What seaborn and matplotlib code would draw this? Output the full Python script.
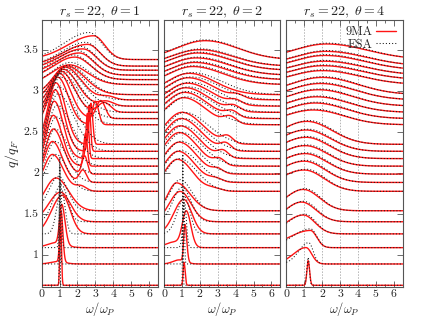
import numpy as np
import pandas as pd
import matplotlib
matplotlib.use("Agg")
import matplotlib.pyplot as plt
from matplotlib.lines import Line2D
from matplotlib.ticker import MultipleLocator
import seaborn as sns

# ---------------- data ----------------
THETA = [1, 2, 4]
RS = 22
Q = [0.627, 0.887, 1.086, 1.254, 1.402, 1.536, 1.773, 1.881, 1.983, 2.080,
     2.172, 2.261, 2.346, 2.585, 2.660, 2.736, 2.812, 2.888, 2.952, 3.075,
     3.135, 3.190, 3.250, 3.300, 3.380]
OMEGA_TICKS = [0, 1, 2, 3, 4, 5, 6]
Q_TICKS = [1.0, 1.5, 2.0, 2.5, 3.0, 3.5]
GRID_OMEGA = [1, 2, 3, 4]
LEGEND_LABELS = ["9MA", "ESA"]

# per-curve peak descriptors (position, height above q, left/right widths,
# optional second peak) -- theta = 1, 9MA
T1_9MA_W = [1.05, 1.08, 1.12, 1.15, 1.05, 0.80, 0.60, 0.60, 0.65, 0.65, 0.70, 0.75, 0.80,
            0.90, 1.00, 1.10, 1.20, 1.30, 1.40, 1.55, 1.85, 2.10, 2.30, 2.57, 2.90]
T1_9MA_H = [0.85, 0.62, 0.48, 0.47, 0.36, 0.40, 0.45, 0.50, 0.55, 0.62, 0.70, 0.75, 0.75,
            0.58, 0.55, 0.50, 0.45, 0.40, 0.35, 0.24, 0.275, 0.27, 0.26, 0.265, 0.29]
T1_9MA_GL = [0.04, 0.07, 0.12, 0.60, 0.66, 0.62, 0.50, 0.45, 0.42, 0.40, 0.40, 0.42, 0.45,
             0.50, 0.55, 0.60, 0.65, 0.70, 0.75, 1.00, 1.20, 1.30, 1.35, 1.40, 1.45]
T1_9MA_GR = [0.05, 0.10, 0.18, 0.45, 0.55, 0.70, 0.60, 0.55, 0.55, 0.50, 0.50, 0.50, 0.52,
             0.58, 0.62, 0.70, 0.80, 0.90, 1.00, 1.00, 0.90, 0.80, 0.75, 0.70, 0.62]
T1_9MA_W2 = [0, 0.90, 0.80, 0, 0, 0, 2.20, 2.30, 2.40, 2.45, 2.55, 2.65, 2.75,
             3.00, 3.30, 3.50, 3.60, 3.70, 0, 0, 0, 0, 0, 0, 0]
T1_9MA_H2 = [0, 0.03, 0.06, 0, 0, 0, 0.06, 0.15, 0.22, 0.40, 0.55, 0.56, 0.50,
             0.28, 0.22, 0.12, 0.06, 0.04, 0, 0, 0, 0, 0, 0, 0]
T1_9MA_G2 = [1, 0.40, 0.50, 1, 1, 1, 0.30, 0.20, 0.15, 0.10, 0.08, 0.08, 0.10,
             0.18, 0.25, 0.35, 0.40, 0.40, 1, 1, 1, 1, 1, 1, 1]
# theta = 1, ESA
T1_ESA_W = [1.00, 1.02, 1.05, 1.10, 1.10, 0.95, 0.80, 0.75, 0.75, 0.80, 0.85, 0.90, 0.95,
            1.05, 1.10, 1.20, 1.30, 1.40, 1.50, 1.60, 1.80, 2.00, 2.20, 2.45, 2.65]
T1_ESA_H = [1.60, 1.20, 0.80, 0.55, 0.45, 0.42, 0.45, 0.50, 0.55, 0.60, 0.65, 0.70, 0.70,
            0.58, 0.55, 0.50, 0.45, 0.40, 0.36, 0.27, 0.30, 0.30, 0.29, 0.29, 0.33]
T1_ESA_GL = [0.015, 0.03, 0.06, 0.25, 0.45, 0.55, 0.55, 0.50, 0.48, 0.48, 0.50, 0.52, 0.55,
             0.60, 0.62, 0.66, 0.70, 0.75, 0.80, 1.00, 1.15, 1.25, 1.30, 1.35, 1.40]
T1_ESA_GR = [0.02, 0.03, 0.06, 0.20, 0.35, 0.50, 0.65, 0.70, 0.75, 0.80, 0.85, 0.90, 0.95,
             1.00, 1.00, 1.00, 1.00, 1.00, 1.00, 1.00, 0.90, 0.85, 0.80, 0.75, 0.70]

# theta = 2, 9MA
T2_9MA_W = [1.12, 1.17, 1.25, 1.10, 0.90, 0.70, 0.75, 0.80, 0.85, 0.85, 0.90, 0.95, 1.00,
            1.10, 1.15, 1.20, 1.30, 1.35, 1.40, 1.60, 1.70, 1.80, 1.90, 2.00, 2.30]
T2_9MA_H = [0.28, 0.45, 0.42, 0.42, 0.37, 0.34, 0.39, 0.38, 0.39, 0.41, 0.40, 0.40, 0.39,
            0.33, 0.32, 0.30, 0.28, 0.27, 0.26, 0.22, 0.21, 0.21, 0.21, 0.20, 0.23]
T2_9MA_GL = [0.05, 0.07, 0.22, 0.55, 0.60, 0.47, 0.73, 0.78, 0.82, 0.85, 0.88, 0.90, 0.95,
             1.00, 1.05, 1.10, 1.15, 1.20, 1.25, 1.30, 1.40, 1.50, 1.55, 1.60, 1.60]
T2_9MA_GR = [0.06, 0.10, 0.25, 0.45, 0.60, 0.75, 0.85, 0.90, 0.95, 1.00, 1.05, 1.10, 1.15,
             1.20, 1.25, 1.30, 1.35, 1.40, 1.45, 1.70, 1.75, 1.80, 1.80, 1.80, 1.80]
T2_9MA_W2 = [0, 0.85, 0.60, 0, 0, 0, 2.80, 2.90, 3.00, 3.10, 3.30, 3.45, 3.55,
             3.70, 3.80, 3.90, 4.00, 4.10, 0, 0, 0, 0, 0, 0, 0]
T2_9MA_H2 = [0, 0.05, 0.07, 0, 0, 0, 0.03, 0.04, 0.05, 0.07, 0.08, 0.08, 0.08,
             0.08, 0.07, 0.06, 0.05, 0.04, 0, 0, 0, 0, 0, 0, 0]
T2_9MA_G2 = [1, 0.35, 0.50, 1, 1, 1, 0.40, 0.35, 0.30, 0.30, 0.30, 0.30, 0.30,
             0.35, 0.35, 0.35, 0.35, 0.35, 1, 1, 1, 1, 1, 1, 1]
# theta = 2, ESA
T2_ESA_W = [1.05, 1.10, 1.15, 1.15, 1.00, 0.90, 0.85, 0.90, 0.95, 1.00, 1.05, 1.10, 1.15,
            1.25, 1.30, 1.35, 1.45, 1.50, 1.55, 1.65, 1.75, 1.85, 1.95, 2.05, 2.30]
T2_ESA_H = [1.60, 0.90, 0.55, 0.45, 0.42, 0.38, 0.40, 0.39, 0.40, 0.41, 0.40, 0.40, 0.39,
            0.34, 0.33, 0.31, 0.29, 0.28, 0.27, 0.23, 0.22, 0.22, 0.22, 0.21, 0.24]
T2_ESA_GL = [0.015, 0.03, 0.10, 0.40, 0.50, 0.55, 0.75, 0.80, 0.85, 0.88, 0.90, 0.95, 1.00,
             1.05, 1.10, 1.15, 1.20, 1.25, 1.30, 1.35, 1.40, 1.50, 1.55, 1.60, 1.60]
T2_ESA_GR = [0.02, 0.04, 0.10, 0.30, 0.50, 0.65, 1.00, 1.05, 1.10, 1.15, 1.20, 1.25, 1.30,
             1.40, 1.45, 1.50, 1.55, 1.60, 1.65, 1.75, 1.80, 1.80, 1.80, 1.80, 1.80]

# theta = 4, 9MA
T4_9MA_W = [1.22, 1.10, 1.35, 0.95, 0.85, 0.95, 1.00, 1.00, 1.05, 1.05, 1.10, 1.10, 1.15,
            1.50, 1.60, 1.70, 1.80, 1.90, 2.00, 2.00, 2.05, 2.10, 2.15, 2.20, 2.25]
T4_9MA_H = [0.30, 0.20, 0.21, 0.23, 0.24, 0.26, 0.26, 0.26, 0.25, 0.25, 0.26, 0.26, 0.28,
            0.18, 0.19, 0.19, 0.20, 0.20, 0.21, 0.17, 0.17, 0.17, 0.18, 0.18, 0.19]
T4_9MA_GL = [0.07, 0.70, 1.20, 0.95, 0.90, 1.00, 1.40, 1.40, 1.45, 1.45, 1.50, 1.50, 1.50,
             1.60, 1.60, 1.65, 1.70, 1.75, 1.80, 1.80, 1.80, 1.80, 1.80, 1.80, 1.83]
T4_9MA_GR = [0.08, 0.32, 0.35, 0.65, 0.80, 0.90, 1.10, 1.15, 1.20, 1.25, 1.30, 1.35, 1.40,
             1.70, 1.75, 1.80, 1.85, 1.90, 1.95, 2.10, 2.15, 2.20, 2.20, 2.25, 2.25]
# theta = 4, ESA
T4_ESA_W = [1.22, 1.25, 1.35, 1.05, 0.95, 1.05, 1.10, 1.10, 1.15, 1.15, 1.20, 1.20, 1.25,
            1.55, 1.65, 1.75, 1.85, 1.95, 2.05, 2.05, 2.10, 2.15, 2.20, 2.25, 2.30]
T4_ESA_H = [0.34, 0.26, 0.23, 0.24, 0.25, 0.27, 0.27, 0.27, 0.26, 0.26, 0.27, 0.27, 0.29,
            0.19, 0.20, 0.20, 0.21, 0.21, 0.22, 0.18, 0.18, 0.18, 0.19, 0.19, 0.20]
T4_ESA_GL = [0.07, 0.55, 1.00, 0.95, 0.95, 1.05, 1.40, 1.40, 1.45, 1.45, 1.50, 1.50, 1.50,
             1.60, 1.60, 1.65, 1.70, 1.75, 1.80, 1.80, 1.80, 1.80, 1.80, 1.80, 1.83]
T4_ESA_GR = [0.07, 0.25, 0.35, 0.60, 0.75, 0.85, 1.05, 1.10, 1.15, 1.20, 1.25, 1.30, 1.35,
             1.65, 1.70, 1.75, 1.80, 1.85, 1.90, 2.05, 2.10, 2.15, 2.15, 2.20, 2.20]
ZEROS = [0] * len(Q)
ONES = [1] * len(Q)

PANELS = [
    dict(nma=(T1_9MA_W, T1_9MA_H, T1_9MA_GL, T1_9MA_GR, T1_9MA_W2, T1_9MA_H2, T1_9MA_G2),
         esa=(T1_ESA_W, T1_ESA_H, T1_ESA_GL, T1_ESA_GR, ZEROS, ZEROS, ONES)),
    dict(nma=(T2_9MA_W, T2_9MA_H, T2_9MA_GL, T2_9MA_GR, T2_9MA_W2, T2_9MA_H2, T2_9MA_G2),
         esa=(T2_ESA_W, T2_ESA_H, T2_ESA_GL, T2_ESA_GR, ZEROS, ZEROS, ONES)),
    dict(nma=(T4_9MA_W, T4_9MA_H, T4_9MA_GL, T4_9MA_GR, ZEROS, ZEROS, ONES),
         esa=(T4_ESA_W, T4_ESA_H, T4_ESA_GL, T4_ESA_GR, ZEROS, ZEROS, ONES)),
]

OMEGA = np.linspace(0, 6.5, 700)


def curves_frame(params):
    rows = []
    for i, q in enumerate(Q):
        w, h, gl, gr, w2, h2, g2 = (p[i] for p in params)
        g = np.where(OMEGA < w, gl, gr)
        s = h * np.exp(-0.5 * ((OMEGA - w) / g) ** 2)
        s = s + h2 * np.exp(-0.5 * ((OMEGA - w2) / g2) ** 2)
        rows.append(pd.DataFrame({"omega": OMEGA, "y": q + s, "curve": i}))
    return pd.concat(rows, ignore_index=True)


# ---------------- styling ----------------
sns.set_style("ticks")
plt.rcParams["font.family"] = ["cmr10", "DejaVu Serif"]
plt.rcParams["mathtext.fontset"] = "cm"
plt.rcParams["axes.formatter.use_mathtext"] = True
plt.rcParams["axes.unicode_minus"] = False

RED = "#ff1414"
DOT = (0, (1, 2.0))

fig = plt.figure(figsize=(4.24, 3.17), dpi=100)
lefts = [0.0983, 0.3868, 0.6752]
width = 0.2745
bottom, height = 0.0946, 0.8433
frame_col = "#555555"

for k, (theta, panel) in enumerate(zip(THETA, PANELS)):
    ax = fig.add_axes([lefts[k], bottom, width, height])
    for g in GRID_OMEGA:
        ax.axvline(g, color="#b4b4b4", lw=0.7, ls=(0, (1.5, 1.5)), zorder=0)
    d9 = curves_frame(panel["nma"])
    de = curves_frame(panel["esa"])
    sns.lineplot(data=d9, x="omega", y="y", units="curve", estimator=None,
                 color=RED, lw=1.0, ax=ax, sort=False, zorder=2)
    sns.lineplot(data=de, x="omega", y="y", units="curve", estimator=None,
                 color="#1a1a1a", lw=0.75, ax=ax, sort=False, zorder=3,
                 linestyle=DOT)
    ax.set_xlim(0, 6.5)
    ax.set_ylim(0.606, 3.866)
    ax.set_xticks(OMEGA_TICKS)
    ax.xaxis.set_minor_locator(MultipleLocator(0.5))
    ax.set_yticks(Q_TICKS)
    ax.tick_params(which="both", direction="in", top=True, right=True,
                   color=frame_col, labelsize=8.5, pad=2)
    ax.tick_params(which="major", length=4, width=0.6)
    ax.tick_params(which="minor", length=2, width=0.6)
    ax.set_xticklabels([str(t) for t in OMEGA_TICKS])
    if k == 0:
        ax.set_yticklabels(["1", "1.5", "2", "2.5", "3", "3.5"])
        ax.set_ylabel(r"$q/q_F$", fontsize=10, labelpad=2)
    else:
        ax.set_yticklabels([])
        ax.set_ylabel("")
    ax.set_xlabel(r"$\omega/\omega_P$", fontsize=9, labelpad=0.5)
    ax.set_title(rf"$r_s = {RS},\ \theta = {theta}$", fontsize=10, pad=3)
    for sp in ax.spines.values():
        sp.set_color(frame_col)
        sp.set_linewidth(0.8)
    if k == 2:
        handles = [Line2D([], [], color=RED, lw=1.0),
                   Line2D([], [], color="#1a1a1a", lw=0.75, ls=DOT)]
        ax.legend(handles, LEGEND_LABELS, loc="upper right", frameon=False,
                  markerfirst=False, handlelength=1.6, handletextpad=0.3,
                  fontsize=9, borderaxespad=0.1, labelspacing=0.05)
    else:
        if ax.get_legend() is not None:
            ax.get_legend().remove()

fig.savefig("out.png", dpi=100)
